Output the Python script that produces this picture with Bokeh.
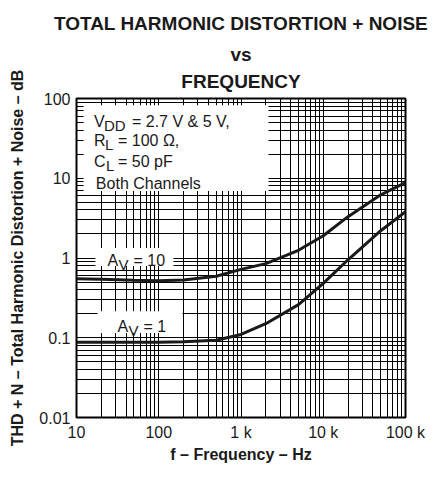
from bokeh.plotting import figure
from bokeh.models import FixedTicker, Title, Label, BoxAnnotation
from bokeh.embed import file_html
from bokeh.resources import INLINE

# ---- data ----
freq_hz = [10, 20, 50, 100, 200, 500, 1000, 2000, 5000, 10000, 20000, 50000, 100000]
thdn_av10 = [0.55, 0.54, 0.525, 0.52, 0.53, 0.59, 0.72, 0.85, 1.25, 1.9, 3.3, 6.2, 8.8]
thdn_av1 = [0.088, 0.088, 0.088, 0.088, 0.089, 0.093, 0.11, 0.15, 0.26, 0.48, 0.95, 2.2, 3.8]

x_ticks = [10, 100, 1000, 10000, 100000]
x_tick_labels = ["10", "100", "1 k", "10 k", "100 k"]
y_ticks = [0.01, 0.1, 1, 10, 100]
y_tick_labels = ["0.01", "0.1", "1", "10", "100"]

FONT = "Liberation Sans"
INK = "#1a1a1a"

def minors(ticks):
    out = []
    for t in ticks[:-1]:
        for k in range(2, 10):
            out.append(t * k)
    return out

p = figure(width=430, height=465, x_axis_type="log", y_axis_type="log",
           x_range=(10, 100000), y_range=(0.01, 100),
           output_backend="svg", toolbar_location=None, title=None,
           min_border_left=76, min_border_right=25, min_border_bottom=47,
           min_border_top=0)

p.add_layout(Title(text="FREQUENCY", align="center", text_font=FONT, text_color=INK,
                   text_font_size="19px", text_font_style="bold", standoff=13), "above")
p.add_layout(Title(text="vs", align="center", text_font=FONT, text_color=INK,
                   text_font_size="19px", text_font_style="bold", standoff=-5), "above")
p.add_layout(Title(text="TOTAL HARMONIC DISTORTION + NOISE", align="center", text_font=FONT,
                   text_color=INK, text_font_size="19px", text_font_style="bold",
                   standoff=21), "above")

xt = FixedTicker(ticks=x_ticks, minor_ticks=minors(x_ticks))
yt = FixedTicker(ticks=y_ticks, minor_ticks=minors(y_ticks))
p.xaxis.ticker = xt
p.yaxis.ticker = yt
p.xgrid.ticker = xt
p.ygrid.ticker = yt
p.xaxis.major_label_overrides = {t: l for t, l in zip(x_ticks, x_tick_labels)}
p.yaxis.major_label_overrides = {t: l for t, l in zip(y_ticks, y_tick_labels)}

for ax in (p.xaxis, p.yaxis):
    ax.major_tick_out = 0
    ax.major_tick_in = 0
    ax.minor_tick_out = 0
    ax.minor_tick_in = 0
    ax.axis_line_color = None
    ax.major_label_text_font = FONT
    ax.major_label_text_font_size = "16px"
    ax.major_label_text_color = INK
    ax.axis_label_text_font = FONT
    ax.axis_label_text_font_size = "16px"
    ax.axis_label_text_font_style = "bold"
    ax.axis_label_text_color = INK

p.xaxis.axis_label = "f – Frequency – Hz"
p.yaxis.axis_label = "THD + N – Total Harmonic Distortion + Noise – dB"
p.xaxis.major_label_standoff = 6
p.yaxis.major_label_standoff = 6
p.xaxis.axis_label_standoff = 2
p.yaxis.axis_label_standoff = 10

for g in (p.xgrid, p.ygrid):
    g.grid_line_color = "black"
    g.grid_line_width = 1
    g.grid_line_alpha = 1
    g.minor_grid_line_color = "black"
    g.minor_grid_line_width = 1
    g.minor_grid_line_alpha = 1

p.outline_line_color = "black"
p.outline_line_width = 2
p.background_fill_color = "white"

p.line(freq_hz, thdn_av10, line_color=INK, line_width=3)
p.line(freq_hz, thdn_av1, line_color=INK, line_width=3)

# white boxes behind annotations
p.add_layout(BoxAnnotation(left=12.2, right=2158, top=82, bottom=6.9,
                           fill_color="white", fill_alpha=1, line_color=None))
p.add_layout(BoxAnnotation(left=17.0, right=151, top=1.33, bottom=0.796,
                           fill_color="white", fill_alpha=1, line_color=None))
p.add_layout(BoxAnnotation(left=18.0, right=194, top=0.215, bottom=0.115,
                           fill_color="white", fill_alpha=1, line_color=None))

def txt(x, y, s, dx=0, dy=0, size="16px"):
    p.add_layout(Label(x=x, y=y, text=s, x_offset=dx, y_offset=dy,
                       text_font=FONT, text_font_size=size, text_color=INK,
                       text_baseline="alphabetic", text_align="left"))

lx = 16.3
txt(lx, 52.0, "V")
txt(lx, 52.0, "DD", dx=10, dy=-4, size="15px")
txt(lx, 52.0, "= 2.7 V & 5 V,", dx=38)
txt(lx, 29.5, "R")
txt(lx, 29.5, "L", dx=11, dy=-4, size="15px")
txt(lx, 29.5, "= 100 Ω,", dx=24)
txt(lx, 16.3, "C")
txt(lx, 16.3, "L", dx=12, dy=-4, size="15px")
txt(lx, 16.3, "= 50 pF", dx=24)
txt(17.2, 8.6, "Both Channels")

txt(23.8, 0.918, "A")
txt(23.8, 0.918, "V", dx=11, dy=-4, size="15px")
txt(23.8, 0.918, "= 10", dx=26)
txt(31.5, 0.137, "A")
txt(31.5, 0.137, "V", dx=11, dy=-4, size="15px")
txt(31.5, 0.137, "= 1", dx=26)

open("out.html", "w").write(file_html(p, INLINE))
